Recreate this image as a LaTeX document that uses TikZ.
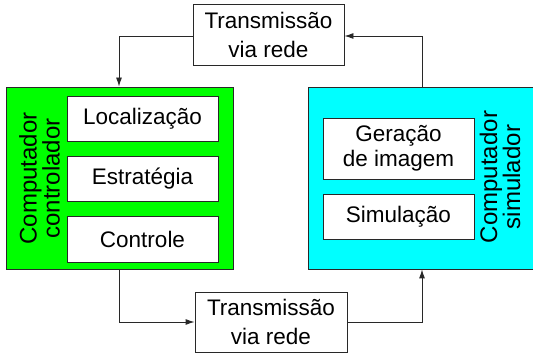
\documentclass[tikz,border=0pt]{standalone}
\usepackage{fontspec}
\setmainfont{Liberation Sans}
\usetikzlibrary{arrows.meta}
\definecolor{ctrlgreen}{RGB}{0,255,0}
\definecolor{simcyan}{RGB}{0,255,255}
\definecolor{edge}{RGB}{40,40,40}
\begin{document}
\begin{tikzpicture}[x=1pt,y=-1pt,
  every node/.style={font=\fontsize{22.5}{28.5}\selectfont, align=center, inner sep=0pt},
  boxstyle/.style={draw=edge, line width=0.9pt, fill=white},
  conn/.style={draw=edge, line width=0.9pt, -{Latex[length=9pt,width=6pt]}}]
\useasboundingbox (0,0) rectangle (533,358);
\clip (0,0) rectangle (533,358);
% outer computers
\node[boxstyle, fill=ctrlgreen, minimum width=227pt, minimum height=182pt] (ctrl) at (119.5,178) {};
\node[boxstyle, fill=simcyan, minimum width=240pt, minimum height=182pt, anchor=west] (sim) at (308,178) {};
% inner boxes
\node[boxstyle, minimum width=151pt, minimum height=45pt] (loc) at (142.5,118.5) {Localização};
\node[boxstyle, minimum width=151pt, minimum height=45pt] (est) at (142.5,178.5) {Estratégia};
\node[boxstyle, minimum width=151pt, minimum height=46pt] (con) at (142.5,239) {Controle};
\node[boxstyle, minimum width=151pt, minimum height=61pt] (ger) at (398.5,148.5) {Geração\\[-3pt]de imagem};
\node[boxstyle, minimum width=151pt, minimum height=45pt] (simu) at (398.5,216.5) {Simulação};
% rotated labels
\node[rotate=90, font=\fontsize{24}{23}\selectfont] (lblc) at (39.5,178.5) {Computador\\controlador};
\node[rotate=90, font=\fontsize{24}{23}\selectfont] (lbls) at (500,177) {Computador\\simulador};
% transmission boxes
\node[boxstyle, minimum width=151pt, minimum height=61pt] (ttop) at (268.5,35) {Transmissão\\via rede};
\node[boxstyle, minimum width=152pt, minimum height=60pt] (tbot) at (271,322) {Transmissão\\via rede};
% connectors
\coordinate (c1) at (119,36);
\coordinate (c2) at (422,36);
\coordinate (c3) at (119,322);
\coordinate (c4) at (422,322);
\draw[conn] (ttop.west |- c1) -- (c1) -- (c1 |- ctrl.north);
\draw[conn] (sim.north -| c2) -- (c2) -- (ttop.east |- c2);
\draw[conn] (ctrl.south -| c3) -- (c3) -- (tbot.west |- c3);
\draw[conn] (tbot.east |- c4) -- (c4) -- (c4 |- sim.south);
\end{tikzpicture}
\end{document}
